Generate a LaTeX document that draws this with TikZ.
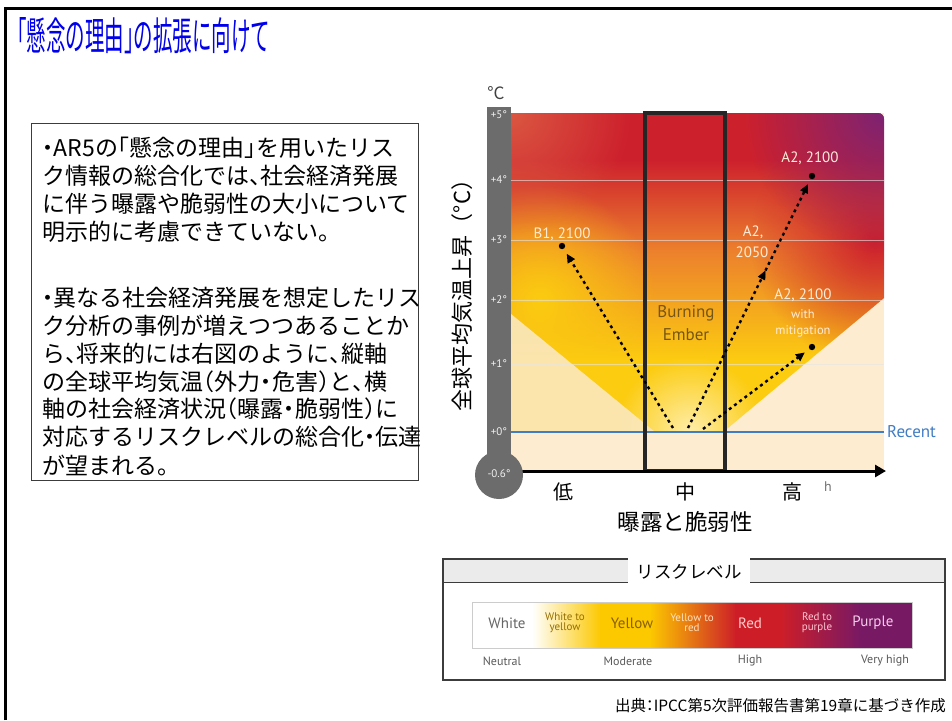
\documentclass[tikz,border=0pt]{standalone}
\usepackage{fontspec}
\setmainfont{Noto Sans CJK JP}
\newfontfamily\lat{PT Sans}
\usetikzlibrary{arrows.meta,fadings,calc}
\definecolor{titleblue}{RGB}{0,0,235}
\definecolor{thermo}{RGB}{108,108,108}
\definecolor{beige}{RGB}{253,236,208}
\definecolor{paleleft}{RGB}{251,232,190}
\definecolor{emYellow}{RGB}{252,204,16}
\definecolor{emOrange}{RGB}{236,128,45}
\definecolor{emRed}{RGB}{205,32,45}
\definecolor{emPurple}{RGB}{125,35,115}
\definecolor{emTL}{RGB}{222,100,70}
\definecolor{glow}{RGB}{255,238,170}
\definecolor{recentblue}{RGB}{65,125,195}
\definecolor{embertext}{RGB}{118,86,20}
\definecolor{boxgray}{RGB}{60,60,60}
\definecolor{lgYellow}{RGB}{252,200,0}
\definecolor{lgOrange}{RGB}{240,140,30}
\definecolor{lgRed}{RGB}{205,30,40}
\definecolor{lgRP}{RGB}{165,25,75}
\definecolor{lgPurple}{RGB}{120,25,100}
\definecolor{chartlbl}{RGB}{255,236,215}
\tikzfading[name=radfade, inner color=transparent!0, outer color=transparent!100]
\newcommand\jpL[1]{\makebox[0.5em][l]{#1}}
\newcommand\jpR[1]{\makebox[0.5em][r]{#1}}
\newcommand\jpC[1]{\makebox[0.5em][c]{#1}}
\tikzset{
  bodyline/.style={font=\fontsize{23}{23}\selectfont, anchor=west},
  ticklbl/.style={font=\lat\fontsize{11}{11}\selectfont, text=white!88!gray},
  chartlabel/.style={font=\lat\fontsize{15}{15}\selectfont, text=chartlbl},
  chartsmall/.style={font=\lat\fontsize{12.5}{12.5}\selectfont, text=chartlbl},
  embertxt/.style={font=\lat\fontsize{17}{17}\selectfont, text=embertext},
  gridln/.style={draw=white!80!gray, line width=0.8pt, opacity=0.6},
  dotarrow/.style={line width=2.4pt, dash pattern=on 3pt off 3.5pt, -{Triangle[length=9pt,width=8pt]}},
  legbig/.style={font=\lat\fontsize{15}{15}\selectfont},
  legsmall/.style={font=\lat\fontsize{11}{10}\selectfont, align=center},
  leglow/.style={font=\lat\fontsize{12}{12}\selectfont, text=black!65},
  axlbl/.style={font=\fontsize{20}{20}\selectfont}
}
\begin{document}
\begin{tikzpicture}[x=1pt,y=-1pt, every node/.style={inner sep=0pt}]
\useasboundingbox (0,0) rectangle (952,720);
\fill[white] (0,0) rectangle (952,720);
% frame
\draw[line width=3pt] (5,720) -- (5,8) -- (952,8);
% title
\node[anchor=west, text=titleblue, font=\fontsize{39}{39}\selectfont] (title) at (7,36)
  {\scalebox{0.5}[1]{「懸念の理由\jpL{」}の拡張に向けて}};
% text box
\draw[boxgray, line width=1pt] (31,123) rectangle (418,480);
\node[bodyline] (t1) at (42,148) {\jpC{・}AR5の\jpR{「}懸念の理由\jpL{」}を用いたリス};
\node[bodyline] (t2) at (42,176) {ク情報の総合化では\jpL{、}社会経済発展};
\node[bodyline] (t3) at (42,204) {に伴う曝露や脆弱性の大小について};
\node[bodyline] (t4) at (42,232) {明示的に考慮できていない。};
\node[bodyline] (t5) at (42,298) {\jpC{・}異なる社会経済発展を想定したリス};
\node[bodyline] (t6) at (42,326) {ク分析の事例が増えつつあることか};
\node[bodyline] (t7) at (42,354) {ら\jpL{、}将来的には右図のように\jpL{、}縦軸};
\node[bodyline] (t8) at (42,382) {の全球平均気温\jpR{（}外力\jpC{・}危害\jpL{）}と\jpL{、}横};
\node[bodyline] (t9) at (42,409) {軸の社会経済状況\jpR{（}曝露\jpC{・}脆弱性\jpL{）}に};
\node[bodyline] (t10) at (42,437) {対応するリスクレベルの総合化\jpC{・}伝達};
\node[bodyline] (t11) at (42,465) {が望まれる。};
% chart background
\fill[beige] (511,113) rectangle (884,471);
\begin{scope}
  \clip (511,113) -- (878,113) to[out=0,in=90] (884,119) -- (884,298) -- (723,432) -- (511,432) -- cycle;
  \fill[emRed] (511,113) rectangle (884,161);
  \shade[top color=emRed, bottom color=emOrange] (511,160) rectangle (884,251);
  \shade[top color=emOrange, bottom color=emYellow] (511,250) rectangle (884,361);
  \fill[emYellow] (511,360) rectangle (884,432);
  \fill[emRed, path fading=radfade] (875,240) circle (125pt);
  \fill[emYellow, path fading=radfade] (540,300) circle (115pt);
  \fill[emPurple, path fading=radfade] (884,113) circle (140pt);
  \fill[emTL, path fading=radfade, fill opacity=0.8] (511,113) circle (120pt);
  \fill[glow, path fading=radfade] (690,432) circle (75pt);
  \fill[paleleft, fill opacity=0.9] (511,314) -- (655,432) -- (511,432) -- cycle;
\end{scope}
% grid lines
\foreach \yy in {180,240,300,364} \draw[gridln] (511,\yy) -- (884,\yy);
% recent line
\coordinate (r0) at (511,432);
\coordinate (r1) at (884,432);
\draw[recentblue, line width=2.6pt] (r0) -- (r1);
\node[anchor=west, text=recentblue, font=\lat\fontsize{17}{17}\selectfont] (recent) at (887,432) {Recent};
% burning ember box
\draw[black!85, line width=3.6pt] (645,113) rectangle (725,471);
\node[embertxt] (burn) at (686,313) {Burning};
\node[embertxt] (emb) at (686,335) {Ember};
% axis
\coordinate (ax0) at (511,471);
\coordinate (ax1) at (886,471);
\draw[line width=3pt, -{Triangle[length=11pt,width=12pt]}] (ax0) -- (ax1);
% thermometer
\fill[thermo] (487,107) rectangle (511,471);
\fill[thermo] (499,475) circle (24pt);
\node[font=\fontsize{17}{17}\selectfont, text=black!75] (degc) at (496,93) {°C};
\node[ticklbl] (p5) at (499,115) {+5°};
\node[ticklbl] (p4) at (499,180) {+4°};
\node[ticklbl] (p3) at (499,240) {+3°};
\node[ticklbl] (p2) at (499,300) {+2°};
\node[ticklbl] (p1) at (499,364) {+1°};
\node[ticklbl] (p0) at (499,432) {+0°};
\node[ticklbl] (m06) at (499,474) {-0.6°};
% y label
\node[rotate=90, font=\fontsize{22}{22}\selectfont] (ylab) at (462,290) {全球平均気温上昇（°C）};
% x labels
\node[axlbl] (low) at (563,492) {低};
\node[axlbl] (mid) at (685,492) {中};
\node[axlbl] (high) at (792,492) {高};
\node[font=\lat\fontsize{14}{14}\selectfont, text=black!55] (hh) at (828,487) {h};
\node[font=\fontsize{22.5}{22.5}\selectfont] (xlab) at (685,522) {曝露と脆弱性};
% scenario points
\coordinate (o1) at (673,428);
\coordinate (b1) at (562,246);
\coordinate (o2) at (688,428);
\coordinate (a2) at (812,176);
\coordinate (o3) at (703,429);
\coordinate (am) at (812,347);
\draw[dotarrow] (o1) -- ($(b1)!9pt!(o1)$);
\fill (b1) circle (3.2pt);
\draw[dotarrow] (o2) -- ($(a2)!9pt!(o2)$);
\fill (a2) circle (3.2pt);
\draw[line width=0.5pt, -{Triangle[length=9pt,width=8pt]}] ($(o2)!0.59!(a2)$) -- ($(o2)!0.625!(a2)$);
\draw[dotarrow] (o3) -- ($(am)!9pt!(o3)$);
\fill (am) circle (3.2pt);
\node[chartlabel] (lb1) at (562,234) {B1, 2100};
\node[chartlabel] (la2) at (810,158) {A2, 2100};
\node[chartlabel] (la2a) at (753,232) {A2,};
\node[chartlabel] (la2b) at (752,252) {2050};
\node[chartlabel] (lam) at (803,295) {A2, 2100};
\node[chartsmall] (lwith) at (803,314) {with};
\node[chartsmall] (lmit) at (803,331) {mitigation};
% legend
\fill[black!8] (443,559) rectangle (945,582);
\draw[boxgray, line width=1.5pt] (443,559) rectangle (945,680);
\draw[boxgray, line width=1pt] (443,582) -- (945,582);
\fill[white] (628,556) rectangle (750,585);
\node[font=\fontsize{17.5}{17.5}\selectfont] (risk) at (689,572) {リスクレベル};
\fill[white] (472,602) rectangle (533,648);
\shade[left color=white, right color=lgYellow] (532,602) rectangle (601,648);
\fill[lgYellow] (600,602) rectangle (651,648);
\shade[left color=lgYellow, middle color=lgOrange, right color=lgRed] (650,602) rectangle (736,648);
\fill[lgRed] (735,602) rectangle (781,648);
\shade[left color=lgRed, middle color=lgRP, right color=lgPurple] (780,602) rectangle (861,648);
\fill[lgPurple] (860,602) rectangle (912,648);
\draw[black!20, line width=0.8pt] (472,602) rectangle (912,648);
\node[legbig, text=black!60] (lw) at (507,623) {White};
\node[legsmall, text={rgb,255:red,150;green,110;blue,0}] (lwy) at (565,623) {White to\\yellow};
\node[legbig, text={rgb,255:red,135;green,95;blue,0}] (ly) at (632,623) {Yellow};
\node[legsmall, text={rgb,255:red,255;green,225;blue,190}] (lyr) at (692,623) {Yellow to\\red};
\node[legbig, text={rgb,255:red,255;green,205;blue,205}] (lr) at (750,623) {Red};
\node[legsmall, text={rgb,255:red,255;green,200;blue,212}] (lrp) at (817,623) {Red to\\purple};
\node[legbig, text={rgb,255:red,245;green,205;blue,235}] (lp) at (873,623) {Purple};
\node[leglow] (neu) at (502,661) {Neutral};
\node[leglow] (mod) at (628,661) {Moderate};
\node[leglow] (hig) at (750,661) {High};
\node[leglow] (vhi) at (885,661) {Very high};
% source
\node[anchor=east, font=\fontsize{15.5}{15.5}\selectfont] (src) at (946,706) {出典\jpC{：}IPCC第5次評価報告書第19章に基づき作成};
\end{tikzpicture}
\end{document}
